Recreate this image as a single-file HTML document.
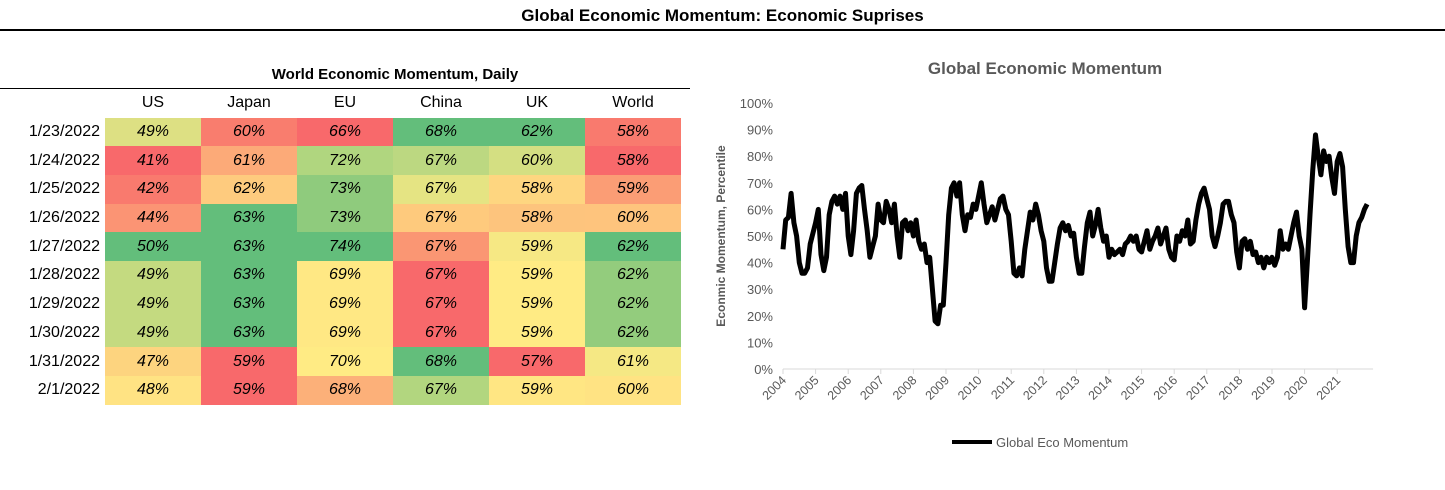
<!DOCTYPE html>
<html><head><meta charset="utf-8"><style>
body{margin:0;width:1445px;height:490px;background:#fff;font-family:"Liberation Sans",sans-serif;position:relative;overflow:hidden}
.abs{position:absolute}
#main-title{left:0;width:1445px;top:6px;text-align:center;font-weight:bold;font-size:17px;color:#000}
#title-rule{left:0;top:29px;width:1445px;height:2px;background:#000}
#table-title{left:100px;width:590px;top:66px;text-align:center;font-weight:bold;font-size:15px}
#table-rule{left:0;top:88px;width:690px;height:1px;background:#000}
table{position:absolute;left:0;top:89px;border-collapse:collapse;font-size:16px}
td,th{padding:0;height:28.7px;text-align:center}
th{font-weight:normal;width:96px;height:28px}
td.date{width:105px;text-align:right;padding-right:5px;box-sizing:border-box}
td.v{font-style:italic;width:96px}
</style></head><body>
<div class="abs" id="main-title">Global Economic Momentum: Economic Suprises</div>
<div class="abs" id="title-rule"></div>
<div class="abs" id="table-title">World Economic Momentum, Daily</div>
<div class="abs" id="table-rule"></div>
<table id="tbl"></table>
<svg id="chart" class="abs" style="left:0;top:0" width="1445" height="490"></svg>
<script>
const cols=["US","Japan","EU","China","UK","World"];
const dates=["1/23/2022","1/24/2022","1/25/2022","1/26/2022","1/27/2022","1/28/2022","1/29/2022","1/30/2022","1/31/2022","2/1/2022"];
const cells=[[49,60,66,68,62,58],[41,61,72,67,60,58],[42,62,73,67,58,59],[44,63,73,67,58,60],[50,63,74,67,59,62],[49,63,69,67,59,62],[49,63,69,67,59,62],[49,63,69,67,59,62],[47,59,70,68,57,61],[48,59,68,67,59,60]];
const colors=[["#DDE083","#F97D6E","#F8696B","#63BE7B","#63BE7B","#F97A6E"],["#F8696B","#FCAA78","#B0D67F","#BCD881","#D4DF82","#F8696B"],["#F97A6E","#FECB7E","#8FCB7D","#E5E483","#FED680","#FB9D75"],["#FB9474","#63BE7B","#8FCB7D","#FECA7D","#FDC47D","#FEC47D"],["#63BE7B","#63BE7B","#63BE7B","#FA9673","#F6E884","#63BE7B"],["#C4DA80","#63BE7B","#FFE884","#F8696B","#FFEB84","#93CC7D"],["#C4DA80","#63BE7B","#FFE884","#F8696B","#FFEB84","#93CC7D"],["#C4DA80","#63BE7B","#FFE884","#F8696B","#FFEB84","#93CC7D"],["#FDD47F","#F8696B","#FFEB84","#63BE7B","#F8696B","#F5E884"],["#FFE383","#F8696B","#FCB079","#B2D67F","#FFE683","#FFE383"]];
const tbl=document.getElementById('tbl');
let h='<tr><td class="date"></td>'+cols.map(c=>'<th>'+c+'</th>').join('')+'</tr>';
dates.forEach((d,i)=>{h+='<tr><td class="date">'+d+'</td>'+cells[i].map((v,j)=>'<td class="v" style="background:'+colors[i][j]+'">'+v+'%</td>').join('')+'</tr>';});
tbl.innerHTML=h;

const years=[2004,2005,2006,2007,2008,2009,2010,2011,2012,2013,2014,2015,2016,2017,2018,2019,2020,2021];
const momentum=[
45,56,57,66,55,50,40,36,36,38,47,51,
55,60,43,37,42,58,63,65,62,65,60,66,
50,43,52,66,68,69,60,52,42,46,50,62,
56,55,63,60,55,62,50,42,55,56,52,55,
50,56,48,45,47,40,42,30,18,17,24,24,
40,58,68,70,65,70,58,52,58,57,62,60,
65,70,62,55,58,61,56,60,64,65,60,58,
48,36,35,38,35,45,52,59,56,62,58,52,
48,38,33,33,40,47,53,55,52,54,50,51,
42,36,36,46,55,59,50,54,60,53,48,50,
42,45,43,44,45,43,47,48,50,48,50,45,
44,48,52,45,48,50,53,47,50,53,45,42,
41,50,48,52,50,56,47,48,56,62,66,68,
64,60,50,46,50,55,62,63,63,58,55,44,
38,48,49,45,48,43,44,40,42,38,42,40,
42,39,42,52,45,47,45,50,55,59,50,45,
23,40,58,75,88,80,73,82,78,80,72,66,
78,81,76,60,46,40,40,50,55,57,60,62];
const yTicks=[0,10,20,30,40,50,60,70,80,90,100];
const svg=document.getElementById('chart');const NS='http://www.w3.org/2000/svg';
const x0=783,yw=32.6,y0=369,py=2.66;
const X=t=>x0+(t-2004)*yw, Y=v=>y0-v*py;
function mk(tag,attrs,txt){const e=document.createElementNS(NS,tag);for(const k in attrs)e.setAttribute(k,attrs[k]);if(txt!==undefined)e.textContent=txt;svg.appendChild(e);return e;}
let e=mk('text',{x:1045,y:74,'text-anchor':'middle','font-size':17,'font-weight':'bold',fill:'#595959'},'Global Economic Momentum');


e=mk('text',{transform:'translate(725,236) rotate(-90)','text-anchor':'middle','font-size':12,'font-weight':'bold',fill:'#595959'},'Econmic Momentum, Percentile');


yTicks.forEach(v=>{const t=mk('text',{x:773,y:Y(v)+5,'text-anchor':'end','font-size':13,fill:'#595959'},v+'%');

});
e=mk('line',{x1:X(2004),x2:X(2022.1),y1:y0,y2:y0,stroke:'#d9d9d9','stroke-width':1});


years.forEach(yr=>{mk('line',{x1:X(yr),x2:X(yr),y1:y0,y2:y0+5,stroke:'#d9d9d9'});
const t=mk('text',{transform:'translate('+(X(yr)+4)+','+(y0+12)+') rotate(-45)','text-anchor':'end','font-size':12.5,fill:'#595959'},yr);

});
const pts=momentum.map((v,i)=>X(2004+i/12).toFixed(1)+','+Y(v).toFixed(1)).join(' ');
e=mk('polyline',{points:pts,fill:'none',stroke:'#000','stroke-width':5,'stroke-linejoin':'round'});


e=mk('line',{x1:952,x2:992,y1:442,y2:442,stroke:'#000','stroke-width':4});


e=mk('text',{x:996,y:447,'font-size':13,fill:'#595959'},'Global Eco Momentum');


</script>
</body></html>
